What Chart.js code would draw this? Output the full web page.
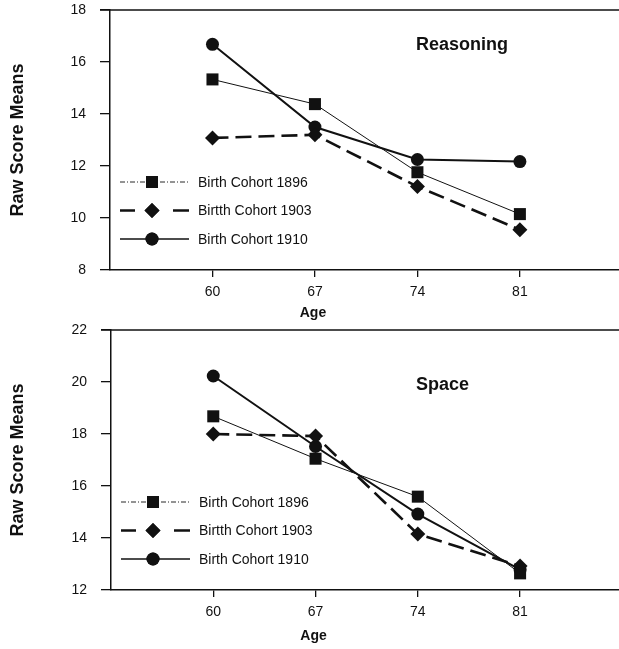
<!DOCTYPE html>
<html>
<head>
<meta charset="utf-8">
<script src="https://cdn.jsdelivr.net/npm/chart.js@4.4.1/dist/chart.umd.min.js"></script>
<style>
  html, body { margin: 0; padding: 0; background: #fff; }
  .wrap { position: absolute; left: 0; width: 619px; }
  canvas { display: block; }
</style>
</head>
<body>
<div class="wrap" style="top:0;height:320px"><canvas id="c1" width="619" height="320"></canvas></div>
<div class="wrap" style="top:320px;height:329px"><canvas id="c2" width="619" height="329"></canvas></div>
<script>
// ---- data ----
const ages = [60, 67, 74, 81];
const seriesLabels = ['Birth Cohort 1896', 'Birtth Cohort 1903', 'Birth Cohort 1910'];

const reasoning1896 = [15.33, 14.38, 11.76, 10.15];
const reasoning1903 = [13.08, 13.20, 11.21, 9.55];
const reasoning1910 = [16.68, 13.50, 12.25, 12.17];

const space1896 = [18.68, 17.05, 15.59, 12.64];
const space1903 = [18.00, 17.92, 14.15, 12.92];
const space1910 = [20.23, 17.52, 14.92, 12.78];

const reasoningTicks = [8, 10, 12, 14, 16, 18];
const spaceTicks = [12, 14, 16, 18, 20, 22];

// ---- styles ----
const INK = '#111';
const FONT = "'Liberation Sans', Arial, Helvetica, sans-serif";
const styles = [
  { lineWidth: 1, dash: [], legendDash: [5, 2, 1, 2], pointStyle: 'rect', radius: 8.5 },
  { lineWidth: 2.6, dash: [16, 7], legendDash: null, pointStyle: 'rectRot', radius: 7.5 },
  { lineWidth: 2, dash: [], legendDash: [], pointStyle: 'circle', radius: 6.5 }
];

function toPoints(vals) { return ages.map((a, i) => ({ x: a, y: vals[i] })); }

const decorPlugin = {
  id: 'decor',
  afterDraw(chart, args, opts) {
    const ctx = chart.ctx;
    const ca = chart.chartArea;
    const xs = chart.scales.x;
    ctx.save();
    // top frame line
    ctx.strokeStyle = INK;
    ctx.lineWidth = 1.5;
    ctx.beginPath();
    ctx.moveTo(ca.left - 10, ca.top);
    ctx.lineTo(ca.right, ca.top);
    ctx.stroke();
    // panel title
    ctx.fillStyle = INK;
    ctx.font = "bold 18px " + FONT;
    ctx.textAlign = 'left';
    ctx.textBaseline = 'middle';
    ctx.fillText(opts.title, 416, ca.top + opts.titleDy);
    // x axis title
    ctx.font = "bold 14px " + FONT;
    ctx.textAlign = 'center';
    ctx.fillText('Age', xs.getPixelForValue(67) - 2, ca.bottom + opts.ageDy);
    // legend
    const rows = [172, 200.5, 229];
    const x0 = ca.left + 10, x1 = ca.left + 79, xm = ca.left + 42;
    chart.data.datasets.forEach((ds, i) => {
      const y = ca.top + rows[i];
      const st = styles[i];
      ctx.strokeStyle = INK;
      if (st.legendDash === null) {
        ctx.lineWidth = 2.4;
        ctx.setLineDash([]);
        ctx.beginPath();
        ctx.moveTo(x0, y); ctx.lineTo(x0 + 15, y);
        ctx.moveTo(x1 - 16, y); ctx.lineTo(x1, y);
        ctx.stroke();
      } else {
        ctx.lineWidth = i === 0 ? 0.9 : 1.3;
        ctx.setLineDash(st.legendDash);
        ctx.beginPath();
        ctx.moveTo(x0, y); ctx.lineTo(x1, y);
        ctx.stroke();
      }
      ctx.setLineDash([]);
      ctx.fillStyle = INK;
      Chart.helpers.drawPoint(ctx, { pointStyle: st.pointStyle, radius: st.radius, rotation: 0, borderWidth: 0 }, xm, y);
      ctx.fill();
      ctx.font = "14px " + FONT;
      ctx.textAlign = 'left';
      ctx.textBaseline = 'middle';
      ctx.fillText(ds.label, ca.left + 88, y + 1);
    });
    ctx.restore();
  }
};

function makeChart(id, vals, yTicks, title, titleDy, ageDy, xAxisHeight, yWidth) {
  const datasets = vals.map((v, i) => ({
    label: seriesLabels[i],
    data: toPoints(v),
    borderColor: INK,
    backgroundColor: INK,
    borderWidth: styles[i].lineWidth,
    borderDash: styles[i].dash,
    pointStyle: styles[i].pointStyle,
    pointRadius: styles[i].radius,
    pointBackgroundColor: INK,
    pointBorderWidth: 0,
    tension: 0
  }));
  return new Chart(document.getElementById(id), {
    type: 'line',
    data: { datasets },
    plugins: [decorPlugin],
    options: {
      responsive: false,
      animation: false,
      layout: { autoPadding: false, padding: { top: 10, right: 0, left: 0, bottom: 0 } },
      plugins: {
        legend: { display: false },
        tooltip: { enabled: false },
        decor: { title, titleDy, ageDy }
      },
      scales: {
        x: {
          type: 'linear',
          min: 53, max: 87.77,
          afterBuildTicks: s => { s.ticks = ages.map(v => ({ value: v })); },
          afterFit: s => { s.height = xAxisHeight; s.paddingLeft = 0; s.paddingRight = 0; },
          grid: { drawOnChartArea: false, drawTicks: true, tickLength: 7, color: INK, lineWidth: 1.3 },
          border: { display: true, color: INK, width: 1.5 },
          ticks: { color: INK, font: { family: FONT, size: 14 }, padding: 7, autoSkip: false, maxRotation: 0 }
        },
        y: {
          min: yTicks[0], max: yTicks[yTicks.length - 1],
          afterBuildTicks: s => { s.ticks = yTicks.map(v => ({ value: v })); },
          afterFit: s => { s.width = yWidth; s.paddingTop = 0; s.paddingBottom = 0; },
          grid: { drawOnChartArea: false, drawTicks: true, tickLength: 10, color: INK, lineWidth: 1.3 },
          border: { display: true, color: INK, width: 1.5 },
          ticks: { color: INK, font: { family: FONT, size: 14 }, padding: 14 },
          title: { display: true, text: 'Raw Score Means', color: INK, font: { family: FONT, size: 18, weight: 'bold' }, padding: { top: 7, bottom: 0 } }
        }
      }
    }
  });
}

makeChart('c1', [reasoning1896, reasoning1903, reasoning1910], reasoningTicks, 'Reasoning', 35, 43, 50, 110);
makeChart('c2', [space1896, space1903, space1910], spaceTicks, 'Space', 55, 46, 59, 111);
</script>
</body>
</html>
